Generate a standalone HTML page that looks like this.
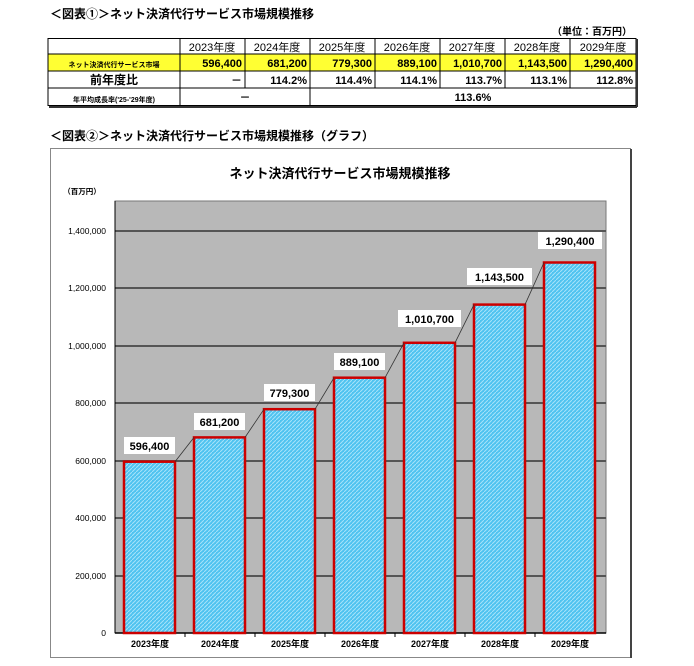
<!DOCTYPE html>
<html><head><meta charset="utf-8"><style>
html,body{margin:0;padding:0;background:#fff;}
svg{display:block;font-family:"Liberation Sans","Noto Sans CJK JP",sans-serif;}
</style></head><body>
<svg width="694" height="666" viewBox="0 0 694 666" xmlns="http://www.w3.org/2000/svg">
<defs>
<pattern id="h" width="4" height="4" patternUnits="userSpaceOnUse">
<rect width="4" height="4" fill="#4fc3f0"/>
<path d="M0,4 L4,0" stroke="#a6e2fa" stroke-width="1"/>
</pattern>
</defs>
<text x="50" y="18" font-size="12" font-weight="bold">＜図表①＞ネット決済代行サービス市場規模推移</text>
<text x="632" y="35" font-size="10" font-weight="bold" text-anchor="end">（単位：百万円）</text>
<!-- table -->
<rect x="48" y="54" width="588" height="17" fill="#ffff33"/>
<g stroke="#000" stroke-width="1" fill="none">
<rect x="48" y="38.5" width="588" height="67"/>
<line x1="48" y1="54" x2="636" y2="54"/>
<line x1="48" y1="71" x2="636" y2="71"/>
<line x1="48" y1="88" x2="636" y2="88"/>
<line x1="180" y1="38" x2="180" y2="106"/>
<line x1="245" y1="38" x2="245" y2="88"/>
<line x1="310" y1="38" x2="310" y2="106"/>
<line x1="375" y1="38" x2="375" y2="88"/>
<line x1="440" y1="38" x2="440" y2="88"/>
<line x1="505" y1="38" x2="505" y2="88"/>
<line x1="570" y1="38" x2="570" y2="88"/>
</g>
<g stroke="#333" stroke-width="2"><line x1="49" y1="107" x2="637" y2="107"/><line x1="637" y1="39" x2="637" y2="107"/></g>
<g font-size="11" text-anchor="middle">
<text x="212" y="51">2023年度</text><text x="277" y="51">2024年度</text><text x="342" y="51">2025年度</text><text x="407" y="51">2026年度</text><text x="472" y="51">2027年度</text><text x="537" y="51">2028年度</text><text x="603" y="51">2029年度</text>
</g>
<text x="114" y="67" font-size="7" font-weight="bold" text-anchor="middle">ネット決済代行サービス市場</text>
<g font-size="11" font-weight="bold" text-anchor="end">
<text x="242" y="67">596,400</text><text x="307" y="67">681,200</text><text x="372" y="67">779,300</text><text x="437" y="67">889,100</text><text x="502" y="67">1,010,700</text><text x="567" y="67">1,143,500</text><text x="633" y="67">1,290,400</text>
<text x="242" y="84">－</text><text x="307" y="84">114.2%</text><text x="372" y="84">114.4%</text><text x="437" y="84">114.1%</text><text x="502" y="84">113.7%</text><text x="567" y="84">113.1%</text><text x="633" y="84">112.8%</text>
</g>
<text x="114" y="84" font-size="12" font-weight="bold" text-anchor="middle">前年度比</text>
<text x="114" y="102" font-size="7" font-weight="bold" text-anchor="middle">年平均成長率('25-'29年度)</text>
<text x="245" y="101" font-size="11" font-weight="bold" text-anchor="middle">－</text>
<text x="473" y="101" font-size="11" font-weight="bold" text-anchor="middle">113.6%</text>
<text x="50" y="140" font-size="12" font-weight="bold">＜図表②＞ネット決済代行サービス市場規模推移（グラフ）</text>
<!-- chart frame -->
<rect x="50.5" y="148.5" width="580" height="509" fill="#fff" stroke="#888" stroke-width="1"/>
<line x1="631" y1="149" x2="631" y2="658" stroke="#444" stroke-width="2"/>
<text x="340" y="178" font-size="13" font-weight="bold" text-anchor="middle">ネット決済代行サービス市場規模推移</text>
<text x="82" y="194" font-size="7.5" font-weight="bold" text-anchor="middle">（百万円）</text>
<!-- plot -->
<rect x="115" y="201" width="491" height="432" fill="#b8b8b8" stroke="#777" stroke-width="1"/>
<g stroke="#555" stroke-width="2">
<line x1="115" y1="231" x2="606" y2="231"/><line x1="115" y1="288" x2="606" y2="288"/><line x1="115" y1="346" x2="606" y2="346"/><line x1="115" y1="403" x2="606" y2="403"/><line x1="115" y1="461" x2="606" y2="461"/><line x1="115" y1="518" x2="606" y2="518"/><line x1="115" y1="576" x2="606" y2="576"/>
</g>
<line x1="115" y1="633" x2="606" y2="633" stroke="#000" stroke-width="1.5"/>
<line x1="115" y1="201" x2="115" y2="633" stroke="#000" stroke-width="1"/>
<g font-size="8.5" text-anchor="end">
<text x="106" y="234">1,400,000</text><text x="106" y="291">1,200,000</text><text x="106" y="349">1,000,000</text><text x="106" y="406">800,000</text><text x="106" y="464">600,000</text><text x="106" y="521">400,000</text><text x="106" y="579">200,000</text><text x="106" y="636">0</text>
</g>
<g stroke="#000" stroke-width="1"><line x1="185" y1="633" x2="185" y2="637"/><line x1="255" y1="633" x2="255" y2="637"/><line x1="325" y1="633" x2="325" y2="637"/><line x1="395" y1="633" x2="395" y2="637"/><line x1="465" y1="633" x2="465" y2="637"/><line x1="535" y1="633" x2="535" y2="637"/></g>
<!-- bars -->
<g fill="url(#h)" stroke="#cc0000" stroke-width="2.5">
<rect x="124" y="461.7" width="51" height="171.3"/>
<rect x="194" y="437.4" width="51" height="195.6"/>
<rect x="264" y="409.2" width="51" height="223.8"/>
<rect x="334" y="377.7" width="51" height="255.3"/>
<rect x="404" y="342.8" width="51" height="290.2"/>
<rect x="474" y="304.6" width="51" height="328.4"/>
<rect x="544" y="262.5" width="51" height="370.5"/>
</g>
<g stroke="#333" stroke-width="0.8">
<line x1="175" y1="461.7" x2="194" y2="437.4"/><line x1="245" y1="437.4" x2="264" y2="409.2"/><line x1="315" y1="409.2" x2="334" y2="377.7"/><line x1="385" y1="377.7" x2="404" y2="342.8"/><line x1="455" y1="342.8" x2="474" y2="304.6"/><line x1="525" y1="304.6" x2="544" y2="262.5"/>
</g>
<g fill="#fff">
<rect x="124" y="437" width="51" height="17"/><rect x="194" y="413" width="51" height="17"/><rect x="264" y="384" width="51" height="17"/><rect x="334" y="353" width="51" height="17"/><rect x="398" y="310" width="63" height="17"/><rect x="467" y="268" width="65" height="17"/><rect x="538" y="232" width="64" height="17"/>
</g>
<g font-size="11" font-weight="bold" text-anchor="middle">
<text x="149.5" y="450">596,400</text><text x="219.5" y="426">681,200</text><text x="289.5" y="397">779,300</text><text x="359.5" y="366">889,100</text><text x="429.5" y="323">1,010,700</text><text x="499.5" y="281">1,143,500</text><text x="570" y="245">1,290,400</text>
</g>
<g font-size="9" font-weight="bold" text-anchor="middle">
<text x="150" y="647">2023年度</text><text x="220" y="647">2024年度</text><text x="290" y="647">2025年度</text><text x="360" y="647">2026年度</text><text x="430" y="647">2027年度</text><text x="500" y="647">2028年度</text><text x="570" y="647">2029年度</text>
</g>
</svg>
</body></html>
